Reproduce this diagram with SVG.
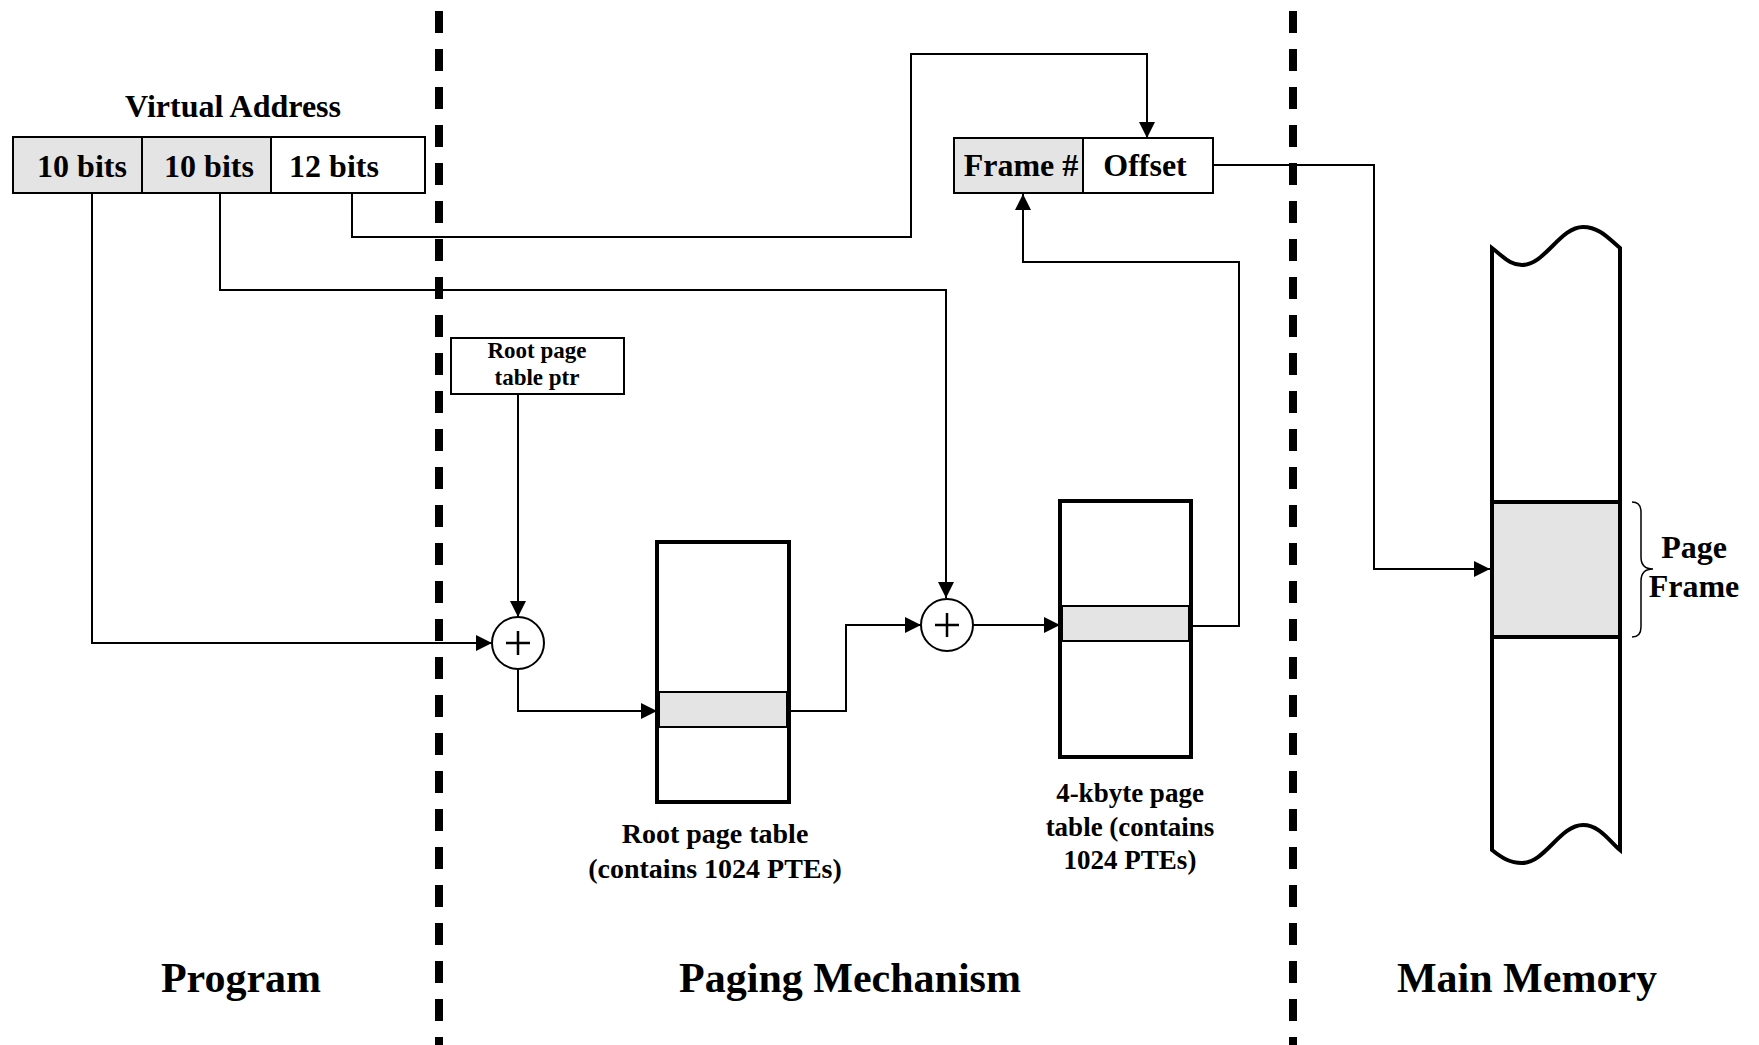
<svg xmlns="http://www.w3.org/2000/svg" width="1759" height="1045" viewBox="0 0 1759 1045">
<style>
text{font-family:"Liberation Serif","Times New Roman",serif;font-weight:bold;fill:#000;text-anchor:middle}
.t32{font-size:32px}
.t28{font-size:27px}
.t28b{font-size:28px}
.t23{font-size:23px}
.t42{font-size:42px}
.box{fill:#fff;stroke:#000;stroke-width:2}
.gbox{fill:#e4e4e4;stroke:#000;stroke-width:2}
.tbl{fill:#fff;stroke:#000;stroke-width:4}
.band{fill:#e4e4e4;stroke:#000;stroke-width:2}
.conn{fill:none;stroke:#000;stroke-width:2}
.plus{fill:none;stroke:#000;stroke-width:2.5}
.div{stroke:#000;stroke-width:8;stroke-dasharray:22 16}
</style>
<defs>
<marker id="arr" markerUnits="userSpaceOnUse" markerWidth="16" markerHeight="16" viewBox="0 0 10 10" refX="10" refY="5" orient="auto">
<path d="M0,0 L10,5 L0,10 z" fill="#000"/>
</marker>
</defs>
<rect width="1759" height="1045" fill="#fff"/>

<g id="dividers">
<line class="div" x1="439" y1="11" x2="439" y2="1045"/>
<line class="div" x1="1293" y1="11" x2="1293" y2="1045"/>
</g>

<g id="connectors">
<path class="conn" d="M92,193 V643 H492" marker-end="url(#arr)"/>
<path class="conn" d="M220,193 V290 H946 V598" marker-end="url(#arr)"/>
<path class="conn" d="M352,193 V237 H911 V54 H1147 V138" marker-end="url(#arr)"/>
<path class="conn" d="M518,394 V617" marker-end="url(#arr)"/>
<path class="conn" d="M518,669 V711 H657" marker-end="url(#arr)"/>
<path class="conn" d="M789,711 H846 V625 H921" marker-end="url(#arr)"/>
<path class="conn" d="M973,625 H1060" marker-end="url(#arr)"/>
<path class="conn" d="M1191,626 H1239 V262 H1023 V194" marker-end="url(#arr)"/>
<path class="conn" d="M1213,165 H1374 V569 H1490" marker-end="url(#arr)"/>
</g>

<g id="virtual-address">
<text class="t32" x="233" y="117">Virtual Address</text>
<rect class="gbox" x="13" y="137" width="129" height="56"/>
<rect class="gbox" x="142" y="137" width="129" height="56"/>
<rect class="box" x="271" y="137" width="154" height="56"/>
<text class="t32" x="82" y="177">10 bits</text>
<text class="t32" x="209" y="177">10 bits</text>
<text class="t32" x="334" y="177">12 bits</text>
</g>

<g id="root-ptr">
<rect class="box" x="451" y="338" width="173" height="56"/>
<text class="t23" x="537" y="358">Root page</text>
<text class="t23" x="537" y="385">table ptr</text>
</g>

<g id="adder1">
<circle class="box" cx="518" cy="643" r="26"/>
<path class="plus" d="M506,643 H530 M518,631 V655"/>
</g>

<g id="root-table">
<rect class="tbl" x="657" y="542" width="132" height="260"/>
<rect class="band" x="659" y="692" width="128" height="35"/>
<text class="t28b" x="715" y="843">Root page table</text>
<text class="t28b" x="715" y="878">(contains 1024 PTEs)</text>
</g>

<g id="adder2">
<circle class="box" cx="947" cy="625" r="26"/>
<path class="plus" d="M935,625 H959 M947,613 V637"/>
</g>

<g id="page-table">
<rect class="tbl" x="1060" y="501" width="131" height="256"/>
<rect class="band" x="1062" y="606" width="127" height="35"/>
<text class="t28" x="1130" y="802">4-kbyte page</text>
<text class="t28" x="1130" y="836">table (contains</text>
<text class="t28" x="1130" y="869">1024 PTEs)</text>
</g>

<g id="physical-address">
<rect class="gbox" x="954" y="138" width="129" height="55"/>
<rect class="box" x="1083" y="138" width="130" height="55"/>
<text class="t32" x="1021" y="176">Frame #</text>
<text class="t32" x="1145" y="176">Offset</text>
</g>

<g id="main-memory">
<path class="tbl" d="M1492,248 C1505,258 1510,265 1522,265 C1545,265 1560,227 1583,227 C1600,227 1610,240 1620,248 V850 C1610,842 1600,825 1583,825 C1560,825 1545,863 1522,863 C1510,863 1502,858 1492,850 Z"/>
<rect class="tbl" x="1492" y="502" width="128" height="135" style="fill:#e4e4e4"/>
<path class="conn" d="M1632,502 Q1641,502 1641,512 V557 Q1641,569 1653,569 Q1641,569 1641,581 V627 Q1641,637 1632,637" style="stroke-width:1.5"/>
<text class="t32" x="1694" y="558">Page</text>
<text class="t32" x="1694" y="597">Frame</text>
</g>

<g id="labels">
<text class="t42" x="241" y="992">Program</text>
<text class="t42" x="850" y="992">Paging Mechanism</text>
<text class="t42" x="1527" y="992">Main Memory</text>
</g>
</svg>
